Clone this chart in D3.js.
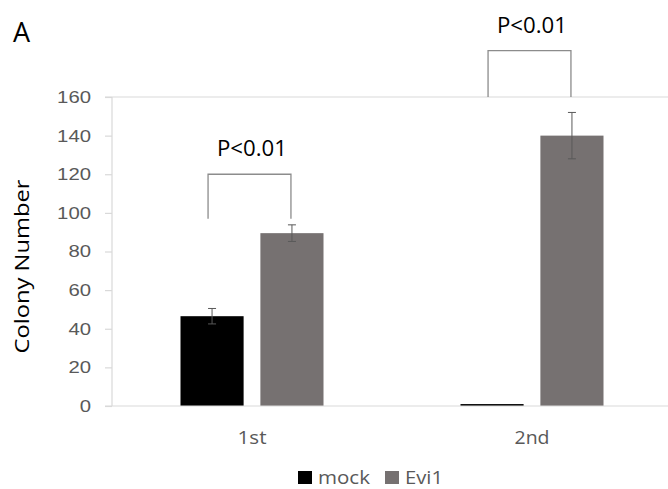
<!DOCTYPE html>
<html>
<head>
<meta charset="utf-8">
<script src="https://cdn.jsdelivr.net/npm/d3@7.9.0/dist/d3.min.js"></script>
<style>
  body { margin: 0; background: #fff; }
  svg { display: block; font-family: "Open Sans", "Noto Sans", sans-serif; }
</style>
</head>
<body>
<svg id="chart" width="668" height="489"></svg>
<script>
// data
const categories = ['1st', '2nd'];
const seriesNames = ['mock', 'Evi1'];
const seriesColors = ['#000000', '#767171'];
const mockValues = [46.5, 1];
const mockErrors = [4, 0];
const evi1Values = [89.5, 140];
const evi1Errors = [4.3, 12];
const yTicks = [0, 20, 40, 60, 80, 100, 120, 140, 160];
// significance brackets: top value and foot value (axis units)
const brackets = [
  { cat: '1st', top: 120, foot: 97, label: 'P<0.01' },
  { cat: '2nd', top: 184, foot: 160, label: 'P<0.01' }
];

const svg = d3.select('#chart');
const width = 668, height = 489;
const plot = { left: 112, right: 672, top: 97, bottom: 406 };

// the reference font runs wider than Open Sans, so stretch texts a bit
const stretch = (sel, w) => sel.attr('textLength', w).attr('lengthAdjust', 'spacingAndGlyphs');

const x = d3.scaleBand()
  .domain(categories)
  .range([plot.left, plot.right]);

const x1 = d3.scaleBand()
  .domain(seriesNames)
  .range([x.bandwidth() / 2 - 71.5, x.bandwidth() / 2 + 71.5])
  .paddingInner(0.21);

const y = d3.scaleLinear()
  .domain([0, 160])
  .range([plot.bottom, plot.top]);

const rows = categories.map((c, i) => ({
  cat: c,
  bars: [
    { s: 'mock', v: mockValues[i], e: mockErrors[i], color: seriesColors[0] },
    { s: 'Evi1', v: evi1Values[i], e: evi1Errors[i], color: seriesColors[1] }
  ]
}));

// frame lines (top) and left axis
const axisColor = '#d9d9d9';
svg.append('line')
  .attr('x1', plot.left - 7).attr('x2', width)
  .attr('y1', y(160)).attr('y2', y(160))
  .attr('stroke', axisColor).attr('stroke-width', 1.2);
svg.append('line')
  .attr('x1', plot.left).attr('x2', plot.left)
  .attr('y1', plot.top).attr('y2', plot.bottom)
  .attr('stroke', axisColor).attr('stroke-width', 1.2);

// y ticks
const yAxis = svg.append('g')
  .attr('transform', `translate(${plot.left},0)`)
  .call(d3.axisLeft(y).tickValues(yTicks).tickSize(7).tickPadding(14));
yAxis.select('.domain').remove();
yAxis.selectAll('.tick line').attr('stroke', axisColor).attr('stroke-width', 1.2);
yAxis.selectAll('.tick text')
  .attr('fill', '#595959')
  .style('font-size', '17px')
  .call(stretch, d => String(d).length * 11.3);

// bars
const groups = svg.append('g')
  .selectAll('g')
  .data(rows)
  .join('g')
  .attr('transform', d => `translate(${x(d.cat)},0)`);

groups.selectAll('rect')
  .data(d => d.bars)
  .join('rect')
  .attr('x', d => x1(d.s))
  .attr('width', x1.bandwidth())
  .attr('y', d => y(d.v))
  .attr('height', d => y(0) - y(d.v))
  .attr('fill', d => d.color);

// error bars
const err = groups.selectAll('g.err')
  .data(d => d.bars.filter(b => b.e > 0))
  .join('g')
  .attr('class', 'err')
  .attr('stroke', '#595959')
  .attr('stroke-width', 1);
err.append('line')
  .attr('x1', d => x1(d.s) + x1.bandwidth() / 2)
  .attr('x2', d => x1(d.s) + x1.bandwidth() / 2)
  .attr('y1', d => y(d.v + d.e))
  .attr('y2', d => y(d.v - d.e));
err.selectAll('line.cap')
  .data(d => [d.v + d.e, d.v - d.e].map(v => ({ v, s: d.s })))
  .join('line')
  .attr('class', 'cap')
  .attr('x1', d => x1(d.s) + x1.bandwidth() / 2 - 4)
  .attr('x2', d => x1(d.s) + x1.bandwidth() / 2 + 4)
  .attr('y1', d => y(d.v))
  .attr('y2', d => y(d.v));

// bottom axis line drawn over bars
svg.append('line')
  .attr('x1', plot.left - 7).attr('x2', width)
  .attr('y1', y(0)).attr('y2', y(0))
  .attr('stroke', axisColor).attr('stroke-width', 1.2);

// category labels
const catWidths = [29, 35];
svg.append('g')
  .selectAll('text')
  .data(categories)
  .join('text')
  .attr('x', d => x(d) + x.bandwidth() / 2)
  .attr('y', 444)
  .attr('text-anchor', 'middle')
  .attr('fill', '#595959')
  .style('font-size', '18px')
  .call(stretch, (d, i) => catWidths[i])
  .text(d => d);

// significance brackets
const br = svg.append('g').selectAll('g')
  .data(brackets)
  .join('g');
br.append('path')
  .attr('d', d => {
    const xa = x(d.cat) + x1('mock') + x1.bandwidth() / 2 - 4;
    const xb = x(d.cat) + x1('Evi1') + x1.bandwidth() / 2 - 1;
    return `M${xa},${y(d.foot)}V${y(d.top)}H${xb}V${y(d.foot)}`;
  })
  .attr('fill', 'none')
  .attr('stroke', '#8c8c8c')
  .attr('stroke-width', 1.3);
br.append('text')
  .attr('x', d => x(d.cat) + x.bandwidth() / 2)
  .attr('y', d => y(d.top) - 18)
  .attr('text-anchor', 'middle')
  .attr('fill', '#000')
  .style('font-size', '21px')
  .call(stretch, 70)
  .text(d => d.label);

// y axis title
svg.append('text')
  .attr('transform', `translate(29,${(plot.top + plot.bottom) / 2 + 15}) rotate(-90)`)
  .attr('text-anchor', 'middle')
  .attr('fill', '#000')
  .style('font-size', '20px')
  .call(stretch, 174)
  .text('Colony Number');

// panel letter
svg.append('text')
  .attr('x', 13).attr('y', 42)
  .attr('fill', '#000')
  .style('font-size', '27px')
  .text('A');

// legend
const legendItems = [
  { name: seriesNames[0], color: seriesColors[0], x: 298, w: 52 },
  { name: seriesNames[1], color: seriesColors[1], x: 385, w: 38 }
];
const lg = svg.append('g').selectAll('g')
  .data(legendItems)
  .join('g')
  .attr('transform', d => `translate(${d.x},471)`);
lg.append('rect')
  .attr('width', 14).attr('height', 13)
  .attr('fill', d => d.color);
lg.append('text')
  .attr('x', 20).attr('y', 12.5)
  .attr('fill', '#595959')
  .style('font-size', '18px')
  .call(stretch, d => d.w)
  .text(d => d.name);
</script>
</body>
</html>
